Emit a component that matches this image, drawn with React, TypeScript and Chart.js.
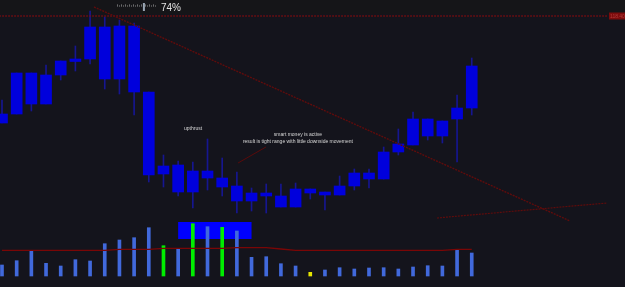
import { useEffect, useRef } from "react";
import { Chart, registerables } from "chart.js";

Chart.register(...registerables);

// bar numbers (categories)
const BARS = [0, 1, 2, 3, 4, 5, 6, 7, 8, 9, 10, 11, 12, 13, 14, 15, 16, 17, 18, 19, 20, 21, 22, 23, 24, 25, 26, 27, 28, 29, 30, 31, 32];

// price series
const BODY_TOP = [108.6, 112.7, 112.7, 112.5, 113.9, 114.1, 117.3, 117.3, 117.4, 117.4, 110.8, 103.4, 103.5, 102.9, 102.9, 102.2, 101.4, 100.7, 100.7, 100.4, 101.1, 101.1, 100.8, 101.4, 102.7, 102.7, 104.8, 105.6, 108.1, 108.1, 107.9, 109.2, 113.4];
const BODY_BOTTOM = [107.7, 108.6, 109.6, 109.6, 112.5, 113.85, 114.1, 112.1, 112.1, 110.8, 102.5, 102.6, 100.8, 100.8, 102.2, 101.3, 99.9, 99.9, 100.4, 99.3, 99.3, 100.7, 100.5, 100.5, 101.4, 102.1, 102.1, 104.8, 105.5, 106.4, 106.4, 108.1, 109.2];
const WICK_HIGH = [110.0, 112.7, 112.7, 113.5, 113.9, 115.4, 118.9, 118.3, 118.0, 117.7, 110.8, 104.5, 103.9, 103.8, 106.1, 104.2, 102.8, 101.2, 101.6, 101.6, 101.7, 101.1, 100.8, 102.4, 103.1, 103.1, 105.3, 107.1, 108.8, 108.1, 107.9, 110.5, 114.2];
const WICK_LOW = [107.7, 108.6, 108.9, 109.6, 112.0, 112.9, 113.6, 111.1, 110.6, 108.5, 101.8, 101.3, 100.4, 99.2, 101.0, 100.4, 98.7, 98.9, 98.7, 99.3, 99.3, 100.1, 99.0, 100.5, 101.0, 101.2, 102.1, 104.5, 105.5, 106.0, 105.7, 103.8, 108.5];

// volume series
const VOLUME = [1100, 1530, 2500, 1270, 1000, 1630, 1500, 3230, 3600, 3830, 4830, 3030, 2700, 5230, 4930, 4870, 4500, 1870, 1930, 1230, 1000, 370, 600, 830, 700, 800, 830, 700, 900, 1030, 1000, 2600, 2300];
const VOLUME_KIND = ["n", "n", "n", "n", "n", "n", "n", "n", "n", "n", "n", "g", "n", "g", "n", "g", "n", "n", "n", "n", "n", "y", "n", "n", "n", "n", "n", "n", "n", "n", "n", "n", "n"];
const VOLUME_MA = [2570, 2570, 2570, 2570, 2570, 2570, 2570, 2570, 2670, 2670, 2670, 2770, 2770, 2770, 2770, 2770, 2830, 2830, 2830, 2700, 2570, 2570, 2570, 2570, 2570, 2570, 2570, 2570, 2570, 2570, 2570, 2670, 2670];

// drawn levels / lines (data units)
const RESISTANCE = 118.4;
const RESISTANCE_LABEL = "118.40";
const RESISTANCE_SPAN = [-0.2, 41.28];
const TREND_DOWN = [{ x: 6.27, y: 119.3 }, { x: 38.7, y: 97.9 }];
const TREND_UP = [{ x: 29.63, y: 98.2 }, { x: 41.21, y: 99.7 }];
const POINTER = [{ x: 16.08, y: 103.7 }, { x: 17.98, y: 105.3 }];
const VOL_BOX = { from: 12, to: 17, high: 5400, low: 3700 };

// annotations
const NOTES = [
  { x: 12.4, y: 107.1, text: "upthrust", align: "left" },
  { x: 20.16, y: 106.5, text: "smart money is active", align: "center" },
  { x: 20.16, y: 105.8, text: "result is tight range with little downside movement", align: "center" },
];
const PERCENT = 74;

const X_MIN = -0.136;
const X_MAX = 42.44;
const P_MIN = 91.3;
const P_MAX = 120;
const V_MIN = -1100;
const V_MAX = 27600;

const volColor = (k: string) => (k === "g" ? "#00ee00" : k === "y" ? "#e6e600" : "#4169dc");

const decor = {
  id: "decor",
  beforeDraw(chart: any) {
    const { ctx, width, height } = chart;
    ctx.save();
    ctx.fillStyle = "#14141c";
    ctx.fillRect(0, 0, width, height);
    ctx.fillStyle = "#151518";
    ctx.fillRect(0, 0, width, 14);
    ctx.restore();
  },
  beforeDatasetsDraw(chart: any) {
    const { ctx, scales } = chart;
    const x = scales.x, v = scales.v;
    const x0 = x.getPixelForValue(VOL_BOX.from);
    const x1 = x.getPixelForValue(VOL_BOX.to);
    const y0 = v.getPixelForValue(VOL_BOX.high);
    const y1 = v.getPixelForValue(VOL_BOX.low);
    ctx.save();
    ctx.fillStyle = "#0000ff";
    ctx.fillRect(x0, y0, x1 - x0, y1 - y0);
    ctx.restore();
  },
  afterDatasetsDraw(chart: any) {
    const { ctx, scales, width } = chart;
    const x = scales.x, y = scales.y;
    ctx.save();
    // notes
    ctx.fillStyle = "#d8d8d8";
    ctx.font = "5px 'Liberation Sans'";
    ctx.textBaseline = "middle";
    for (const n of NOTES) {
      ctx.textAlign = n.align as CanvasTextAlign;
      ctx.fillText(n.text, x.getPixelForValue(n.x), y.getPixelForValue(n.y));
    }
    // resistance price label
    const ry = y.getPixelForValue(RESISTANCE);
    const lx = x.getPixelForValue(RESISTANCE_SPAN[1]) + 1;
    ctx.fillStyle = "#7c0c0c";
    ctx.fillRect(lx, ry - 3.5, width - lx, 7);
    ctx.fillStyle = "#b03a3a";
    ctx.font = "5px 'Liberation Sans'";
    ctx.textAlign = "left";
    ctx.fillText(RESISTANCE_LABEL, lx + 1, ry + 0.3);
    // progress ruler
    const rl = 117, rr = 155, rw = 35, rY = 5.5;
    ctx.fillStyle = "#8a8a8a";
    for (let px = rl; px <= rr; px += 2) ctx.fillRect(px, rY, 1, 1);
    for (let px = rl; px <= rr; px += 4) ctx.fillRect(px, rY - 1, 1, 1);
    ctx.fillStyle = "#9aa6b4";
    ctx.fillRect(rl + (PERCENT / 100) * rw, 3, 2, 8);
    ctx.fillStyle = "#e2e2e2";
    ctx.font = "10px 'Liberation Sans'";
    ctx.textBaseline = "alphabetic";
    ctx.fillText(PERCENT + "%", 161, 10.5);
    ctx.restore();
  },
};

export default function App() {
  const ref = useRef<HTMLCanvasElement>(null);
  useEffect(() => {
    if (!ref.current) return;
    const chart = new Chart(ref.current, {
      type: "bar",
      data: {
        datasets: [
          {
            type: "line",
            label: "pointer",
            data: POINTER,
            yAxisID: "y",
            borderColor: "#5a0a0a",
            borderWidth: 1,
            pointRadius: 0,
            order: 1,
          } as any,
          {
            type: "line",
            label: "trend down",
            data: TREND_DOWN,
            yAxisID: "y",
            borderColor: "#5e0c0c",
            borderWidth: 1.4,
            borderDash: [2, 1],
            pointRadius: 0,
            order: 1,
          },
          {
            type: "line",
            label: "trend up",
            data: TREND_UP,
            yAxisID: "y",
            borderColor: "#5e0c0c",
            borderWidth: 1.2,
            borderDash: [2, 1],
            pointRadius: 0,
            order: 1,
          },
          {
            type: "line",
            label: "resistance",
            data: RESISTANCE_SPAN.map((xv) => ({ x: xv, y: RESISTANCE })),
            yAxisID: "y",
            borderColor: "#8a0c0c",
            borderWidth: 1,
            borderDash: [2, 1],
            pointRadius: 0,
            order: 1,
          },
          {
            type: "line",
            label: "volume ma",
            data: BARS.map((b, i) => ({ x: b, y: VOLUME_MA[i] })),
            yAxisID: "v",
            borderColor: "#7a0606",
            borderWidth: 1.3,
            pointRadius: 0,
            order: 2,
          },
          {
            label: "bodies",
            data: BARS.map((b, i) => ({ x: b, y: [BODY_BOTTOM[i], BODY_TOP[i]] })),
            yAxisID: "y",
            backgroundColor: "#0000dc",
            barThickness: 11,
            grouped: false,
            order: 3,
          } as any,
          {
            label: "wicks",
            data: BARS.map((b, i) => ({ x: b, y: [WICK_LOW[i], WICK_HIGH[i]] })),
            yAxisID: "y",
            backgroundColor: "#161690",
            barThickness: 1,
            grouped: false,
            order: 4,
          } as any,
          {
            label: "volume",
            data: BARS.map((b, i) => ({ x: b, y: VOLUME[i] })),
            yAxisID: "v",
            backgroundColor: VOLUME_KIND.map(volColor),
            barThickness: 3,
            grouped: false,
            order: 5,
          } as any,
        ],
      },
      options: {
        animation: false,
        responsive: false,
        devicePixelRatio: 1,
        layout: { padding: 0 },
        plugins: { legend: { display: false }, tooltip: { enabled: false } },
        scales: {
          x: { type: "linear", min: X_MIN, max: X_MAX, offset: false, display: false },
          y: { type: "linear", min: P_MIN, max: P_MAX, display: false },
          v: { type: "linear", min: V_MIN, max: V_MAX, display: false },
        },
      },
      plugins: [decor],
    });
    return () => chart.destroy();
  }, []);
  return (
    <div style={{ position: "fixed", left: 0, top: 0, width: 625, height: 287 }}>
      <canvas ref={ref} width={625} height={287} style={{ display: "block" }} />
    </div>
  );
}
